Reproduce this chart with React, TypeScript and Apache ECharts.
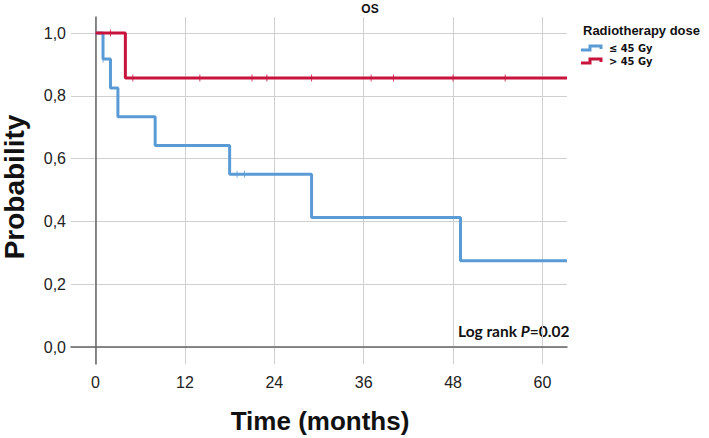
import React, { useEffect, useRef } from "react";
import * as echarts from "echarts";

// ---- data ----
const xTicks = [0, 12, 24, 36, 48, 60];
const yTicks = [0, 0.2, 0.4, 0.6, 0.8, 1.0];
const xMin = -3.3;
const xMax = 63.3;
const yMin = -0.054;
const yMax = 1.051;

const lowTimes = [0, 1, 2, 3, 8, 18, 29, 49, 63.3];
const lowSurv = [1, 0.917, 0.825, 0.733, 0.642, 0.55, 0.4125, 0.275, 0.275];
const lowCensorTimes = [1, 19, 20];
const lowCensorSurv = [0.917, 0.55, 0.55];

const highTimes = [0, 4, 63.3];
const highSurv = [1, 0.857, 0.857];
const highCensorTimes = [2, 5, 14, 21, 23, 29, 37, 40, 48, 55];
const highCensorSurv = [1, 0.857, 0.857, 0.857, 0.857, 0.857, 0.857, 0.857, 0.857, 0.857];

const groupNames = ["≤ 45 Gy", "> 45 Gy"];
const legendTitle = "Radiotherapy dose";
const chartTitle = "OS";
const xTitle = "Time (months)";
const yTitle = "Probability";

const BLUE = "#5b9bd5";
const RED = "#c8143c";

export default function App() {
  const ref = useRef<HTMLDivElement>(null);
  useEffect(() => {
    if (!ref.current) return;
    document.body.style.margin = "0";
    const chart = echarts.init(ref.current, undefined, { renderer: "svg" });
    const zip = (a: number[], b: number[]) => a.map((v, i) => [v, b[i]]);
    const glyph = (y: number, color: string) => ({
      type: "polyline",
      shape: {
        points: [
          [581, y + 2],
          [590, y + 2],
          [590, y - 2],
          [601, y - 2],
          [601, y + 1],
        ],
      },
      style: { stroke: color, lineWidth: 3, fill: "none" },
    });
    const itemFont = "bold 11px 'Liberation Sans Narrow', 'DejaVu Sans Condensed', sans-serif";
    chart.setOption({
      animation: false,
      grid: { left: 71, top: 17, right: 142, bottom: 74, containLabel: false },
      xAxis: {
        type: "value",
        min: xMin,
        max: xMax,
        axisLine: { show: true, lineStyle: { color: "#666", width: 1.5 } },
        axisTick: { show: false, customValues: xTicks },
        axisLabel: {
          customValues: xTicks,
          color: "#222",
          fontSize: 16,
          fontFamily: "Liberation Sans, Arial, sans-serif",
          margin: 10,
        },
        splitLine: { show: true, lineStyle: { color: "#cfcfcf", width: 1 } },
      },
      yAxis: {
        type: "value",
        min: yMin,
        max: yMax,
        axisLine: { show: true, lineStyle: { color: "#666", width: 1.5 } },
        axisTick: { show: false, customValues: yTicks },
        axisLabel: {
          customValues: yTicks,
          color: "#222",
          fontSize: 16,
          fontFamily: "Liberation Sans, Arial, sans-serif",
          margin: 5,
          formatter: (v: number) => v.toFixed(1).replace(".", ","),
        },
        splitLine: { show: true, lineStyle: { color: "#cfcfcf", width: 1 } },
      },
      series: [
        {
          type: "line",
          step: "end",
          data: zip(lowTimes, lowSurv),
          showSymbol: false,
          lineStyle: { color: BLUE, width: 3 },
          z: 3,
        },
        {
          type: "line",
          step: "end",
          data: zip(highTimes, highSurv),
          showSymbol: false,
          lineStyle: { color: RED, width: 3 },
          z: 3,
        },
        {
          type: "scatter",
          data: zip(lowCensorTimes, lowCensorSurv),
          symbol: "rect",
          symbolSize: [1, 7],
          itemStyle: { color: BLUE },
          z: 4,
        },
        {
          type: "scatter",
          data: zip(highCensorTimes, highCensorSurv),
          symbol: "rect",
          symbolSize: [1, 7],
          itemStyle: { color: RED },
          z: 4,
        },
      ],
      graphic: [
        {
          type: "text",
          x: 370,
          y: 9,
          style: {
            text: chartTitle,
            font: "bold 12px Liberation Sans, Arial, sans-serif",
            fill: "#111",
            align: "center",
            verticalAlign: "middle",
          },
        },
        {
          type: "text",
          x: 583,
          y: 30,
          style: {
            text: legendTitle,
            font: "bold 13px Liberation Sans, Arial, sans-serif",
            fill: "#111",
            align: "left",
            verticalAlign: "middle",
          },
        },
        glyph(48, BLUE),
        glyph(61, RED),
        {
          type: "text",
          x: 609,
          y: 48,
          style: { text: groupNames[0], font: itemFont, fill: "#111", align: "left", verticalAlign: "middle" },
        },
        {
          type: "text",
          x: 609,
          y: 61,
          style: { text: groupNames[1], font: itemFont, fill: "#111", align: "left", verticalAlign: "middle" },
        },
        {
          type: "text",
          x: 458,
          y: 331,
          style: {
            text: "{n|Log rank }{i|P}{n|=0.02}",
            align: "left",
            verticalAlign: "middle",
            rich: {
              n: { font: "bold 15.5px Lato, sans-serif", fill: "#111" },
              i: { font: "italic bold 15.5px Lato, sans-serif", fill: "#111" },
            },
          },
        },
        {
          type: "text",
          x: 320,
          y: 421,
          style: {
            text: xTitle,
            font: "bold 26px Liberation Sans, Arial, sans-serif",
            fill: "#111",
            align: "center",
            verticalAlign: "middle",
          },
        },
        {
          type: "text",
          x: 14,
          y: 187,
          rotation: Math.PI / 2,
          style: {
            text: yTitle,
            font: "bold 28px Liberation Sans, Arial, sans-serif",
            fill: "#111",
            align: "center",
            verticalAlign: "middle",
          },
        },
      ],
    });
    return () => chart.dispose();
  }, []);
  return <div ref={ref} style={{ width: 709, height: 438 }} />;
}
